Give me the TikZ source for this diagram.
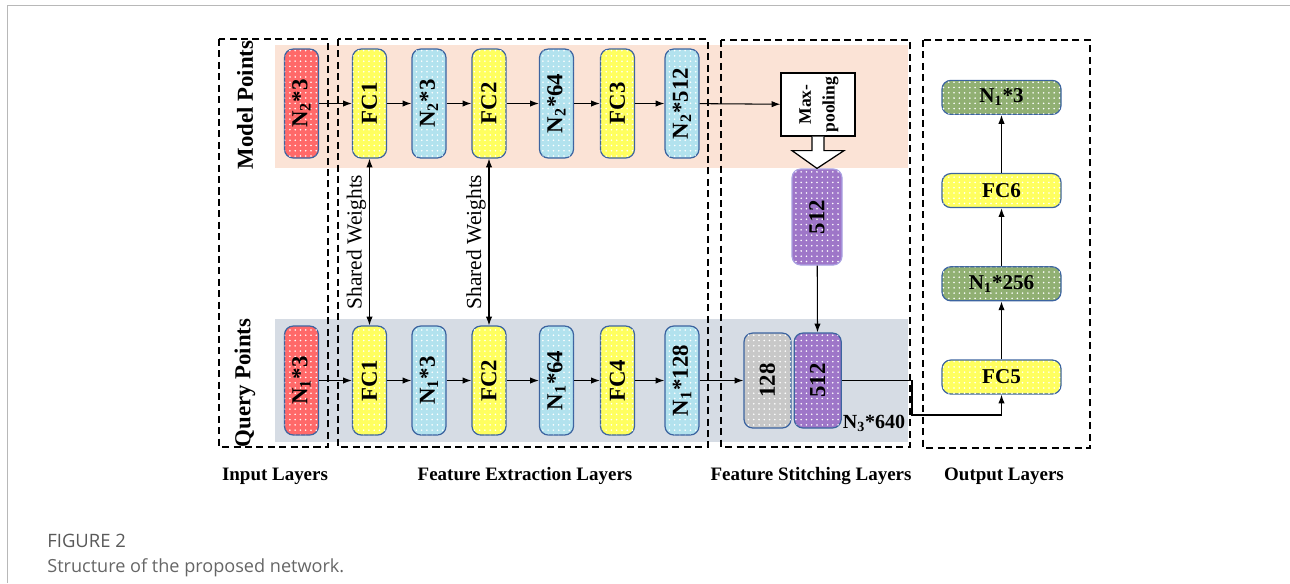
\documentclass[tikz,border=0pt]{standalone}
\usepackage{fontspec}
\setmainfont{Liberation Serif}
\newfontfamily\capfont{Open Sans}
\usetikzlibrary{chains,positioning,calc,arrows.meta,patterns}
\definecolor{myred}{RGB}{255,105,105}
\definecolor{myyellow}{RGB}{255,255,95}
\definecolor{mycyan}{RGB}{178,226,238}
\definecolor{mygreen}{RGB}{145,176,115}
\definecolor{mypurple}{RGB}{158,118,200}
\definecolor{mylilac}{RGB}{170,160,225}
\definecolor{mygray}{RGB}{200,200,200}
\definecolor{mysalmon}{RGB}{251,227,214}
\definecolor{myslate}{RGB}{214,220,228}
\definecolor{myedge}{RGB}{60,100,160}

\begin{document}
\begin{tikzpicture}[x=0.02cm,y=-0.02cm,
	every node/.style={inner sep=0pt},
	layer/.style={draw=myedge,line width=0.7pt,rounded corners=5pt,
		postaction={pattern=dots,pattern color=white},
		font=\fontsize{13}{15}\selectfont\bfseries},
	tallnode/.style={layer,minimum width=0.68cm,minimum height=2.18cm},
	innode/.style={tallnode,fill=myred},
	fcnode/.style={tallnode,fill=myyellow},
	featnode/.style={tallnode,fill=mycyan},
	catnode/.style={layer,minimum width=0.94cm,minimum height=1.9cm},
	widenode/.style={layer,minimum width=2.38cm,minimum height=0.68cm,font=\fontsize{12}{14}\selectfont\bfseries},
	groupbox/.style={draw,dash pattern=on 4pt off 2.5pt,line width=0.9pt},
	conn/.style={line width=0.6pt,-{Latex[length=5pt,width=3.6pt]}},
	twoway/.style={conn,{Latex[length=5pt,width=3.6pt]}-{Latex[length=5pt,width=3.6pt]}},
	sidelabel/.style={rotate=90,font=\fontsize{13}{15}\selectfont\bfseries},
	layerlabel/.style={font=\fontsize{10.8}{13}\selectfont\bfseries},
	weightlabel/.style={midway,rotate=90,anchor=south,inner sep=1.5pt,font=\fontsize{12.2}{14}\selectfont},
	]
	
	\useasboundingbox (0,0) rectangle (1290,583);
	\draw[black!28,line width=0.9pt] (7.5,583) -- (7.5,5.5) -- (1290,5.5);
	
	% the two input streams
	\fill[mysalmon] (275,45) rectangle (908,168);
	\fill[myslate] (275,319) rectangle (908,442);
	
	% layer groups
	\draw[groupbox] (219,39) rectangle (328,447);
	\draw[groupbox] (338,39) rectangle (708,447);
	\draw[groupbox] (721,40) rectangle (910,447);
	\draw[groupbox] (923,40) rectangle (1090,448);
	
	\node[sidelabel] (mlabel) at (245,105) {Model Points};
	\node[sidelabel] (qlabel) at (245,383) {Query Points};
	
	% model points row
	\foreach \x/\n/\s/\t in {301.5/mi/innode/{N\textsubscript{2}*3},369.5/mfc1/fcnode/FC1,429/mf1/featnode/{N\textsubscript{2}*3},
		489/mfc2/fcnode/FC2,556.5/mf2/featnode/{N\textsubscript{2}*64},617.5/mfc3/fcnode/FC3,682/mf3/featnode/{N\textsubscript{2}*512}}
	\node[\s] (\n) at (\x,103.5) {\rotatebox{90}{\t}};
	
	% query points row
	\foreach \x/\n/\s/\t in {301.5/qi/innode/{N\textsubscript{1}*3},369.5/qfc1/fcnode/FC1,429/qf1/featnode/{N\textsubscript{1}*3},
		489/qfc2/fcnode/FC2,556.5/qf2/featnode/{N\textsubscript{1}*64},617.5/qfc4/fcnode/FC4,682/qf3/featnode/{N\textsubscript{1}*128}}
	\node[\s] (\n) at (\x,380.5) {\rotatebox{90}{\t}};
	
	% stitching
	\node[draw,line width=0.7pt,fill=white,minimum width=1.48cm,minimum height=1.26cm,
		font=\fontsize{10}{13.6}\selectfont\bfseries] (maxpool) at (818,104.5)
		{\rotatebox{90}{\begin{tabular}{@{}c@{}}Max-\\pooling\end{tabular}}};
	\node[catnode,fill=mypurple,draw=mylilac,minimum width=1cm,minimum height=1.92cm] (m512) at (817,217) {\rotatebox{90}{512}};
	\node[catnode,fill=mygray] (q128) at (767.5,380.5) {\rotatebox{90}{128}};
	\node[catnode,fill=mypurple,right=0.04cm of q128] (q512) {\rotatebox{90}{512}};
	\node[font=\fontsize{11.4}{13}\selectfont\bfseries] (catsize) at (874,423) {N\textsubscript{3}*640};
	
	% output column
	\begin{scope}[shift={(1001.5,377)},start chain=going above,node distance=1.16cm]
	\foreach \n/\c/\t in {fc5/myyellow/FC5,o256/mygreen/{N\textsubscript{1}*256},fc6/myyellow/FC6,o3/mygreen/{N\textsubscript{1}*3}}
	\node[widenode,fill=\c,on chain] (\n) {\t};
	\end{scope}
	
	% model edges
	\draw[conn] (mi) -- (mfc1);
	\draw[conn] (mfc1) -- (mf1);
	\draw[conn] (mf1) -- (mfc2);
	\draw[conn] (mfc2) -- (mf2);
	\draw[conn] (mf2) -- (mfc3);
	\draw[conn] (mfc3) -- (mf3);
	\draw[conn] (mf3) -- (maxpool);
	
	% query edges
	\draw[conn] (qi) -- (qfc1);
	\draw[conn] (qfc1) -- (qf1);
	\draw[conn] (qf1) -- (qfc2);
	\draw[conn] (qfc2) -- (qf2);
	\draw[conn] (qf2) -- (qfc4);
	\draw[conn] (qfc4) -- (qf3);
	\draw[conn] (qf3) -- (q128);
	
	% shared weights
	\draw[twoway] (mfc1.south) -- (qfc1.north) node[weightlabel] (sw1) {Shared Weights};
	\draw[twoway] (mfc2.south) -- (qfc2.north) node[weightlabel] (sw2) {Shared Weights};
	
	% pooling arrow
	\draw[line width=0.7pt,fill=white] ($(maxpool.south)+(-6,0)$) -- ++(0,14) -- ++(-20,0) -- (m512.north)
		-- ($(maxpool.south)+(26,14)$) -- ++(-20,0) -- ++(0,-14);
	\draw[conn] (m512) -- (q512);
	
	% output edges
	\coordinate (turn) at (912,415);
	\draw[conn] (q512.east) -| (turn) -| (fc5.south);
	\draw[conn] (fc5) -- (o256);
	\draw[conn] (o256) -- (fc6);
	\draw[conn] (fc6) -- (o3);
	
	% group names
	\node[layerlabel] (inname) at (275,476) {Input Layers};
	\node[layerlabel] (fename) at (525,476) {Feature Extraction Layers};
	\node[layerlabel] (fsname) at (811,476) {Feature Stitching Layers};
	\node[layerlabel] (outname) at (1004,476) {Output Layers};
	
	\node[anchor=west,font=\capfont\fontsize{10.5}{12}\selectfont,text=black!65] (figno) at (47,541) {FIGURE 2};
	\node[anchor=west,font=\capfont\fontsize{10.3}{12}\selectfont,text=black!60] (figcap) at (47,568) {Structure of the proposed network.};
	
\end{tikzpicture}
\end{document}
